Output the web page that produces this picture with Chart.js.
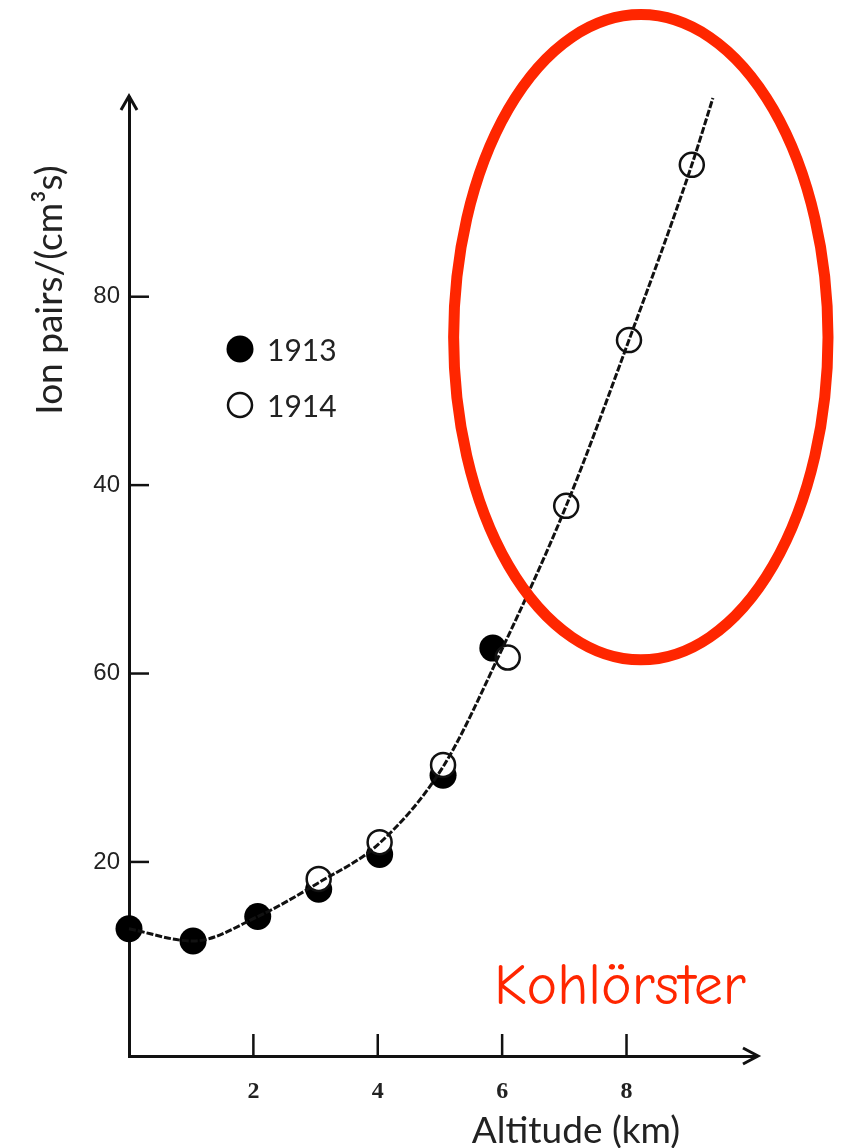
<!DOCTYPE html>
<html>
<head>
<meta charset="utf-8">
<script src="https://cdn.jsdelivr.net/npm/chart.js@4.4.1/dist/chart.umd.min.js"></script>
<style>
  html, body { margin: 0; background: #fff; }
  #wrap { width: 848px; height: 1148px; position: relative; }
</style>
</head>
<body>
<div id="wrap"><canvas id="chart"></canvas></div>
<script>
const alt1913  = [0, 1.03, 2.07, 3.05, 4.03, 5.05, 5.85];
const ions1913 = [12.9, 11.6, 14.2, 17.1, 20.8, 29.2, 42.7];
const alt1914  = [3.05, 4.03, 5.05, 6.09, 7.03, 8.04, 9.05];
const ions1914 = [18.2, 22.1, 30.3, 41.7, 57.8, 75.4, 94.0];
const fitAlt   = [0, 1.03, 2.07, 3.05, 4.03, 5.05, 5.97, 7.03, 8.04, 9.05, 9.39];
const fitIons  = [12.9, 11.6, 14.2, 17.8, 22.0, 30.1, 42.2, 57.8, 75.4, 94.0, 101.1];

const xTicks      = [2, 4, 6, 8];
const xTickLabels = ['2', '4', '6', '8'];
const yTicks      = [20, 40, 60, 80];
const yTickLabels = ['20', '60', '40', '80'];   // as printed on the scan

const seriesNames = ['1913', '1914'];
const xTitle = 'Altitude (km)';
const yTitle = 'Ion pairs/(cm³s)';
const note   = 'Kohlörster';

const RED = '#ff2600';
const pts = (xs, ys) => xs.map((v, i) => ({x: v, y: ys[i]}));

/* ——— extra drawing: inward ticks, arrows, titles, legend, ellipse ——— */
const extras = {
  id: 'extras',
  afterDraw(chart) {
    const {ctx, chartArea: a, scales: {x, y}} = chart;
    ctx.save();

    // inward tick marks
    ctx.strokeStyle = '#111'; ctx.lineWidth = 2.5;
    xTicks.forEach(v => {
      const px = x.getPixelForValue(v);
      ctx.beginPath(); ctx.moveTo(px, a.bottom); ctx.lineTo(px, a.bottom - 22); ctx.stroke();
    });
    yTicks.forEach(v => {
      const py = y.getPixelForValue(v);
      ctx.beginPath(); ctx.moveTo(a.left, py); ctx.lineTo(a.left + 20, py); ctx.stroke();
    });

    // arrow heads
    ctx.lineWidth = 3; ctx.lineJoin = 'miter';
    ctx.beginPath();
    ctx.moveTo(a.left - 8, a.top + 13); ctx.lineTo(a.left, a.top - 1); ctx.lineTo(a.left + 8, a.top + 13);
    ctx.stroke();
    ctx.beginPath();
    ctx.moveTo(a.right, a.bottom); ctx.lineTo(a.right + 3, a.bottom); ctx.stroke();
    ctx.beginPath();
    ctx.moveTo(a.right - 11, a.bottom - 8); ctx.lineTo(a.right + 4, a.bottom); ctx.lineTo(a.right - 11, a.bottom + 8);
    ctx.stroke();

    // axis titles
    ctx.fillStyle = '#222';
    ctx.font = '37px Lato, "Open Sans", sans-serif';
    ctx.textAlign = 'center'; ctx.textBaseline = 'middle';
    ctx.fillText(xTitle, 576, 1131);
    ctx.save();
    ctx.translate(50, 290); ctx.rotate(-Math.PI / 2);
    ctx.fillText(yTitle, 0, 0);
    ctx.restore();

    // legend
    const ds = chart.data.datasets;
    [ds[1], ds[2]].forEach((d, i) => {
      const cy = 349 + i * 56;
      ctx.beginPath(); ctx.arc(240, cy, d.pointRadius, 0, Math.PI * 2);
      ctx.fillStyle = d.pointBackgroundColor; ctx.fill();
      if (d.pointBorderWidth) { ctx.lineWidth = d.pointBorderWidth; ctx.strokeStyle = d.pointBorderColor; ctx.stroke(); }
      ctx.fillStyle = '#222'; ctx.font = '30px Lato, "Open Sans", sans-serif';
      ctx.textAlign = 'left'; ctx.textBaseline = 'middle';
      ctx.fillText(seriesNames[i], 267, cy + 2);
    });

    // red ellipse around the 1914 high-altitude points (data units)
    const cx = x.getPixelForValue(8.23), cyE = y.getPixelForValue(75.7);
    const rx = x.getPixelForValue(8.23 + 3.01) - cx;
    const ry = cyE - y.getPixelForValue(75.7 + 34.25);
    ctx.strokeStyle = RED; ctx.lineWidth = 11;
    ctx.beginPath(); ctx.ellipse(cx, cyE, rx, ry, 0, 0, Math.PI * 2); ctx.stroke();

    ctx.fillStyle = RED;
    ctx.font = '58px "Comic Sans MS", "Comic Neue", "DejaVu Sans", sans-serif';
    ctx.textAlign = 'center'; ctx.textBaseline = 'alphabetic';
    ctx.fillText(note, 620, 1004);

    ctx.restore();
  }
};

/* ——— chart ——— */
new Chart(document.getElementById('chart'), {
  type: 'scatter',
  data: {
    datasets: [
      { label: 'fit', data: pts(fitAlt, fitIons), showLine: true,
        borderColor: '#111', borderWidth: 3, borderDash: [7, 2],
        pointRadius: 0, cubicInterpolationMode: 'monotone', order: 0, clip: false },
      { label: seriesNames[0], data: pts(alt1913, ions1913),
        pointRadius: 13.5, pointBackgroundColor: '#000', pointBorderColor: '#000', pointBorderWidth: 0,
        order: 2, clip: false },
      { label: seriesNames[1], data: pts(alt1914, ions1914),
        pointRadius: 12, pointBackgroundColor: '#fff', pointBorderColor: '#111', pointBorderWidth: 2.5,
        order: 1, clip: false }
    ]
  },
  options: {
    responsive: true, maintainAspectRatio: false, animation: false, events: [],
    layout: { padding: { left: 0, top: 97, right: 94, bottom: 0 } },
    plugins: { legend: { display: false }, tooltip: { enabled: false } },
    scales: {
      x: {
        type: 'linear', min: 0, max: 10.05,
        afterFit: s => { s.height = 92; },
        afterBuildTicks: s => { s.ticks = xTicks.map(v => ({value: v})); },
        grid: { display: false, drawTicks: false },
        border: { display: true, color: '#111', width: 3 },
        ticks: { callback: v => xTickLabels[xTicks.indexOf(v)], padding: 21,
                 color: '#222', font: { family: '"Liberation Serif", serif', size: 24, weight: 'bold' },
                 maxRotation: 0 }
      },
      y: {
        type: 'linear', min: -0.6, max: 101.2,
        afterFit: s => { s.width = 129; },
        afterBuildTicks: s => { s.ticks = yTicks.map(v => ({value: v})); },
        grid: { display: false, drawTicks: false },
        border: { display: true, color: '#111', width: 3 },
        ticks: { callback: v => yTickLabels[yTicks.indexOf(v)], padding: 9,
                 color: '#222', font: { family: '"Liberation Sans", sans-serif', size: 24 } }
      }
    }
  },
  plugins: [extras]
});
</script>
</body>
</html>
